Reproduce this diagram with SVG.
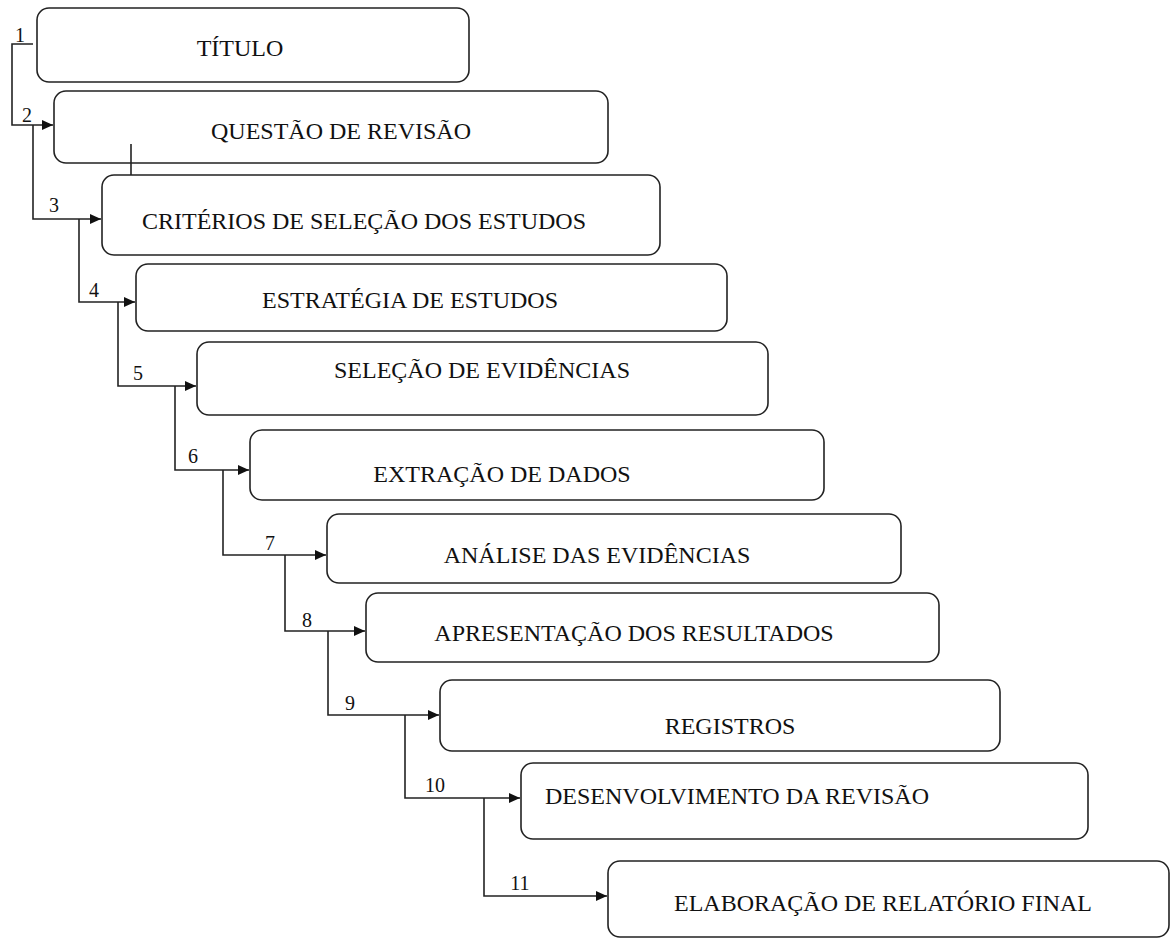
<svg xmlns="http://www.w3.org/2000/svg" width="1171" height="938" viewBox="0 0 1171 938">
<style>
.box{fill:#fff;stroke:#222;stroke-width:1.6}
.lbl{font-family:"Liberation Serif","Times New Roman",serif;font-size:24px;fill:#111;text-anchor:middle}
.num{font-family:"Liberation Serif","Times New Roman",serif;font-size:20px;fill:#111;text-anchor:middle}
.con{fill:none;stroke:#222;stroke-width:1.6}
</style>
<defs>
<marker id="arr" markerUnits="userSpaceOnUse" markerWidth="12" markerHeight="12" refX="11" refY="5" orient="auto">
<path d="M0,0 L11,5 L0,10 Z" fill="#111"/>
</marker>
</defs>
<rect width="1171" height="938" fill="#fff"/>
<g id="n1"><rect class="box" x="37" y="8" width="432" height="74" rx="12"/><text class="lbl" x="240" y="56">TÍTULO</text></g>
<g id="n2"><rect class="box" x="54" y="91" width="554" height="72" rx="12"/><text class="lbl" x="341" y="139">QUESTÃO DE REVISÃO</text></g>
<g id="n3"><rect class="box" x="102" y="175" width="558" height="80" rx="12"/><text class="lbl" x="364" y="229">CRITÉRIOS DE SELEÇÃO DOS ESTUDOS</text></g>
<g id="n4"><rect class="box" x="136" y="264" width="591" height="67" rx="12"/><text class="lbl" x="410" y="308">ESTRATÉGIA DE ESTUDOS</text></g>
<g id="n5"><rect class="box" x="197" y="342" width="571" height="73" rx="12"/><text class="lbl" x="482" y="378">SELEÇÃO DE EVIDÊNCIAS</text></g>
<g id="n6"><rect class="box" x="250" y="430" width="574" height="70" rx="12"/><text class="lbl" x="502" y="482">EXTRAÇÃO DE DADOS</text></g>
<g id="n7"><rect class="box" x="327" y="514" width="574" height="69" rx="12"/><text class="lbl" x="597" y="563">ANÁLISE DAS EVIDÊNCIAS</text></g>
<g id="n8"><rect class="box" x="366" y="593" width="573" height="69" rx="12"/><text class="lbl" x="634" y="641">APRESENTAÇÃO DOS RESULTADOS</text></g>
<g id="n9"><rect class="box" x="440" y="680" width="560" height="71" rx="12"/><text class="lbl" x="730" y="734">REGISTROS</text></g>
<g id="n10"><rect class="box" x="521" y="763" width="567" height="76" rx="12"/><text class="lbl" x="737" y="804">DESENVOLVIMENTO DA REVISÃO</text></g>
<g id="n11"><rect class="box" x="608" y="861" width="561" height="76" rx="12"/><text class="lbl" x="883" y="911">ELABORAÇÃO DE RELATÓRIO FINAL</text></g>
<g id="connectors">
<path class="con" d="M33,44 H12 V125 H53" marker-end="url(#arr)"/>
<path class="con" d="M33,125 V219 H101" marker-end="url(#arr)"/>
<path class="con" d="M79,219 V302 H135" marker-end="url(#arr)"/>
<path class="con" d="M118,302 V386 H196" marker-end="url(#arr)"/>
<path class="con" d="M175,386 V470 H249" marker-end="url(#arr)"/>
<path class="con" d="M223,470 V555 H326" marker-end="url(#arr)"/>
<path class="con" d="M285,555 V631 H365" marker-end="url(#arr)"/>
<path class="con" d="M328,631 V715 H439" marker-end="url(#arr)"/>
<path class="con" d="M405,715 V798 H520" marker-end="url(#arr)"/>
<path class="con" d="M484,798 V896 H607" marker-end="url(#arr)"/>
<path class="con" d="M131,144 V175"/>
<text class="num" x="20" y="42">1</text>
<text class="num" x="27" y="122">2</text>
<text class="num" x="54" y="212">3</text>
<text class="num" x="94" y="297">4</text>
<text class="num" x="138" y="380">5</text>
<text class="num" x="193" y="463">6</text>
<text class="num" x="270" y="550">7</text>
<text class="num" x="307" y="627">8</text>
<text class="num" x="350" y="710">9</text>
<text class="num" x="435" y="792">10</text>
<text class="num" x="520" y="890">11</text>
</g>
</svg>
